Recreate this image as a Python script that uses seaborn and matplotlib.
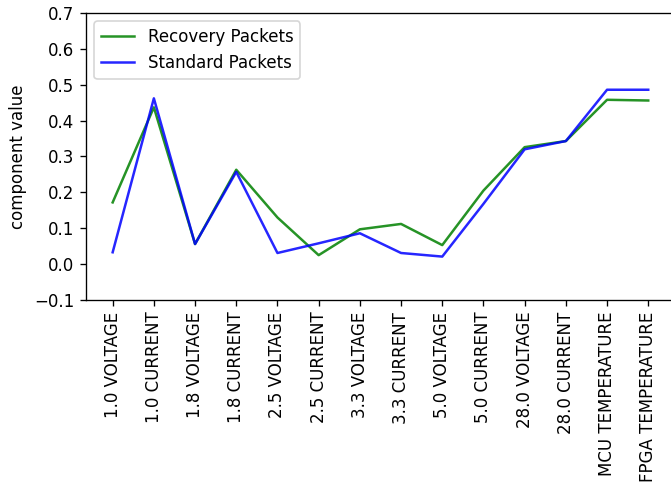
import matplotlib
matplotlib.use('Agg')
import matplotlib.pyplot as plt
import numpy as np
import pandas as pd
import seaborn as sns

components = [
    '1.0 VOLTAGE', '1.0 CURRENT', '1.8 VOLTAGE', '1.8 CURRENT',
    '2.5 VOLTAGE', '2.5 CURRENT', '3.3 VOLTAGE', '3.3 CURRENT',
    '5.0 VOLTAGE', '5.0 CURRENT', '28.0 VOLTAGE', '28.0 CURRENT',
    'MCU TEMPERATURE', 'FPGA TEMPERATURE',
]
recovery = [0.172, 0.437, 0.056, 0.263, 0.130, 0.025, 0.097,
            0.112, 0.053, 0.205, 0.326, 0.343, 0.458, 0.456]
standard = [0.033, 0.462, 0.056, 0.257, 0.031, 0.058, 0.086,
            0.031, 0.021, 0.168, 0.320, 0.343, 0.486, 0.486]

df = pd.concat([
    pd.DataFrame({'component': components, 'value': recovery,
                  'series': 'Recovery Packets'}),
    pd.DataFrame({'component': components, 'value': standard,
                  'series': 'Standard Packets'}),
])

dpi = 120
fig = plt.figure(figsize=(671 / dpi, 489 / dpi), dpi=dpi)
ax = fig.add_axes([0.128, 0.3865, 0.878, 0.587])

sns.lineplot(data=df, x='component', y='value', hue='series',
             palette={'Recovery Packets': 'green', 'Standard Packets': 'blue'},
             sort=False, linewidth=1.5, alpha=0.85, ax=ax)

ax.set_ylim(-0.1, 0.7)
ax.set_yticks(np.arange(-0.1, 0.71, 0.1))
ax.set_xlabel('')
ax.set_ylabel('component value')
ax.tick_params(axis='x', labelrotation=90)
ax.legend(loc='upper left', title=None)

fig.savefig('out.png', dpi=dpi)
